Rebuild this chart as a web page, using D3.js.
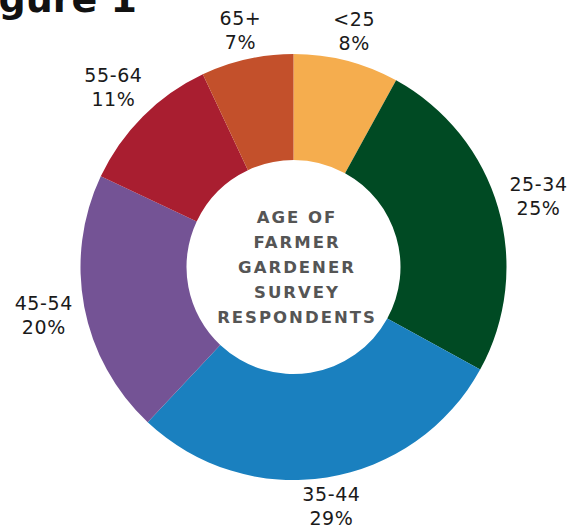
<!DOCTYPE html>
<html>
<head>
<meta charset="utf-8">
<script src="https://cdn.jsdelivr.net/npm/d3@7/dist/d3.min.js"></script>
<style>
  html, body { margin: 0; padding: 0; background: #fff; }
  svg { display: block; }
</style>
</head>
<body>
<svg id="chart" width="582" height="529"></svg>
<script>
// Age groups of farmer/gardener survey respondents
const ageGroups = ["<25", "25-34", "35-44", "45-54", "55-64", "65+"];
const shares = [8, 25, 29, 20, 11, 7];
const sliceColors = ["#F5AD4E", "#004A23", "#1A80BF", "#745395", "#A91E30", "#C3502B"];
const centerLines = ["AGE OF", "FARMER", "GARDENER", "SURVEY", "RESPONDENTS"];
const figureTitle = "Figure 1";

const svg = d3.select("#chart");
const cx = 293.5, cy = 267;
const outerR = 213, innerR = 107;

const pie = d3.pie().sort(null).value(d => d.value);
const arcs = pie(ageGroups.map((g, i) => ({ group: g, value: shares[i], color: sliceColors[i] })));
const arc = d3.arc().innerRadius(innerR).outerRadius(outerR);

const g = svg.append("g").attr("transform", `translate(${cx},${cy})`);

g.selectAll("path.slice")
  .data(arcs)
  .join("path")
  .attr("class", "slice")
  .attr("d", arc)
  .attr("fill", d => d.data.color);

// Outside labels sit on a slightly squarish ring so the diagonal ones clear the edge
const ax = 253, ay = 241, p = 2.2;
function labelPos(a) {
  const s = Math.sin(a), c = Math.cos(a);
  const k = Math.pow(Math.abs(s) / ax, p) + Math.pow(Math.abs(c) / ay, p);
  const r = Math.pow(k, -1 / p);
  return [s * r, -c * r];
}

const labels = g.selectAll("text.lbl")
  .data(arcs)
  .join("text")
  .attr("class", "lbl")
  .attr("text-anchor", "middle")
  .attr("font-family", "DejaVu Sans, sans-serif")
  .attr("font-size", 19)
  .attr("letter-spacing", 0.6)
  .attr("fill", "#1a1a1a")
  .attr("transform", d => {
    const [x, y] = labelPos((d.startAngle + d.endAngle) / 2);
    return `translate(${x},${y})`;
  });
labels.append("tspan").attr("x", 0).attr("y", -5).text(d => d.data.group);
labels.append("tspan").attr("x", 0).attr("y", 19).text(d => d.data.value + "%");

// Center caption
const cap = g.append("text")
  .attr("text-anchor", "middle")
  .attr("font-family", "DejaVu Sans, sans-serif")
  .attr("font-weight", "bold")
  .attr("font-size", 16.5)
  .attr("letter-spacing", 2)
  .attr("fill", "#555555");
centerLines.forEach((t, i) => {
  cap.append("tspan").attr("x", 3.5).attr("y", -44 + i * 25).text(t);
});

// Figure heading, running off the top-left corner
svg.append("text")
  .attr("x", 137).attr("y", 12)
  .attr("text-anchor", "end")
  .attr("font-family", "DejaVu Sans, sans-serif")
  .attr("font-weight", "bold")
  .attr("font-size", 38)
  .attr("fill", "#111")
  .text(figureTitle);
</script>
</body>
</html>
